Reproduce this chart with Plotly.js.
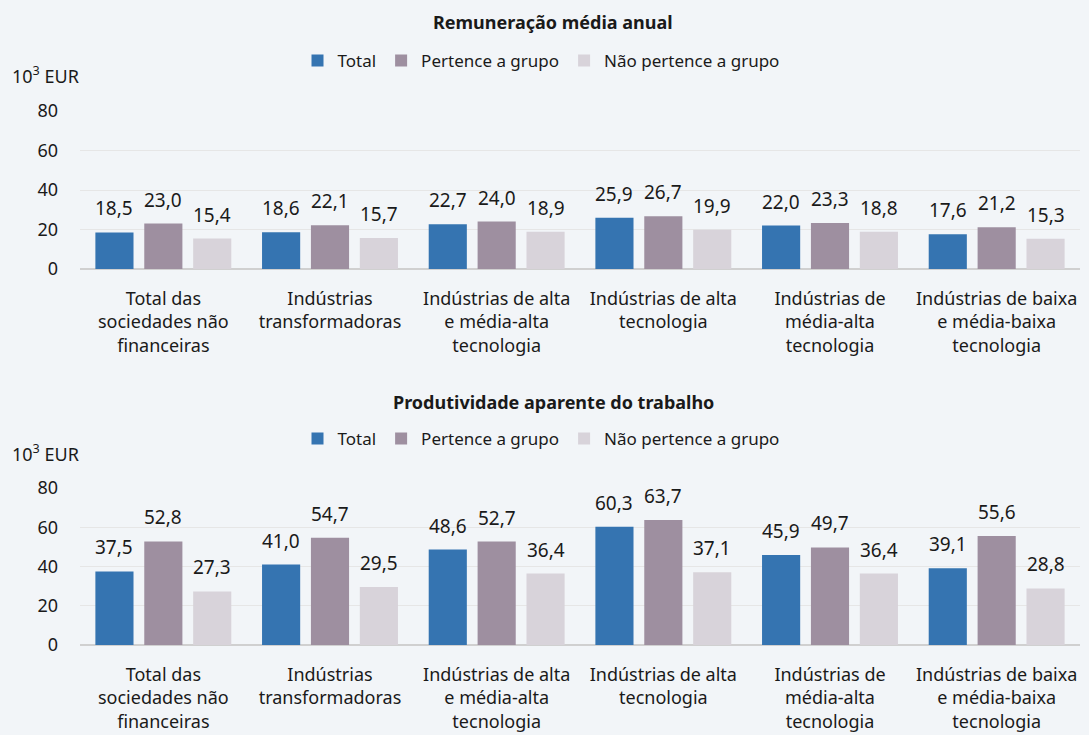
<!DOCTYPE html>
<html>
<head>
<meta charset="utf-8">
<script src="https://cdn.plot.ly/plotly-3.0.1.min.js"></script>
<style>html,body{margin:0;padding:0;background:#f2f5f8;}#chart{width:1089px;height:735px;}</style>
</head>
<body>
<div id="chart"></div>
<script>
const categories = [
  "Total das<br>sociedades não<br>financeiras",
  "Indústrias<br>transformadoras",
  "Indústrias de alta<br>e média-alta<br>tecnologia",
  "Indústrias de alta<br>tecnologia",
  "Indústrias de<br>média-alta<br>tecnologia",
  "Indústrias de baixa<br>e média-baixa<br>tecnologia"
];
const seriesNames = ["Total", "Pertence a grupo", "Não pertence a grupo"];
const colors = ["#3574b1", "#9e8fa0", "#d8d3da"];
// Remuneração média anual (10^3 EUR)
const remTotal = [18.5, 18.6, 22.7, 25.9, 22.0, 17.6];
const remGrupo = [23.0, 22.1, 24.0, 26.7, 23.3, 21.2];
const remNaoGrupo = [15.4, 15.7, 18.9, 19.9, 18.8, 15.3];
// Produtividade aparente do trabalho (10^3 EUR)
const prodTotal = [37.5, 41.0, 48.6, 60.3, 45.9, 39.1];
const prodGrupo = [52.8, 54.7, 52.7, 63.7, 49.7, 55.6];
const prodNaoGrupo = [27.3, 29.5, 36.4, 37.1, 36.4, 28.8];
const titles = ["Remuneração média anual", "Produtividade aparente do trabalho"];
const unitLabel = "10<sup>3</sup> EUR";

const FONT = "Noto Sans, sans-serif";
const TXT = "#1a1a1a";
const BARGAP = 0.12;
const PLOT_W = 1000;
const slotPx = (PLOT_W / categories.length) * (1 - BARGAP) / seriesNames.length;

const traces = [];
const annotations = [];
const sets = [[remTotal, remGrupo, remNaoGrupo], [prodTotal, prodGrupo, prodNaoGrupo]];
sets.forEach((set, p) => {
  const xa = p === 0 ? "x" : "x2";
  const ya = p === 0 ? "y" : "y2";
  set.forEach((vals, i) => {
    traces.push({
      type: "bar",
      x: categories,
      y: vals,
      name: seriesNames[i],
      xaxis: xa,
      yaxis: ya,
      legend: p === 0 ? "legend" : "legend2",
      marker: {color: colors[i]},
      hoverinfo: "x+y"
    });
    vals.forEach((v, k) => {
      annotations.push({
        xref: xa, yref: ya, x: categories[k], y: v,
        xshift: (i - 1) * slotPx, yshift: 9,
        xanchor: "center", yanchor: "bottom", showarrow: false,
        text: v.toFixed(1).replace(".", ","),
        font: {family: FONT, size: 19, color: TXT}
      });
    });
  });
});

const yax = (domain) => ({
  domain: domain, range: [0, 80], tickvals: [0, 20, 40, 60, 80],
  showgrid: true, gridcolor: "#e6e6e6", gridwidth: 1,
  zeroline: true, zerolinecolor: "#d0d0d0", zerolinewidth: 2,
  showline: false, ticks: "", ticklabelstandoff: 21,
  tickfont: {family: FONT, size: 18, color: TXT}, fixedrange: true
});
const xax = (anchor) => ({
  anchor: anchor, domain: [0, 1], showgrid: false, showline: false, ticks: "",
  ticklabelstandoff: 17,
  tickfont: {family: FONT, size: 18, color: TXT}, fixedrange: true
});
const legendBase = (y) => ({
  orientation: "h", x: 0.461, xanchor: "center", y: y, yanchor: "middle",
  bgcolor: "rgba(0,0,0,0)", font: {family: FONT, size: 17, color: TXT},
  itemwidth: 30, traceorder: "normal"
});

[[titles[0], 22], [titles[1], 402]].forEach(([t, py]) => {
  annotations.push({text: "<b>" + t + "</b>", xref: "paper", yref: "paper", x: 0.473, y: 1 - py/735,
    xanchor: "center", yanchor: "middle", showarrow: false, font: {family: FONT, size: 18, color: TXT}});
});
[75, 453].forEach(py => {
  annotations.push({text: unitLabel, xref: "paper", yref: "paper", x: -70/1000, y: 1 - py/735,
    xanchor: "left", yanchor: "middle", showarrow: false, font: {family: FONT, size: 18, color: TXT}});
});

const layout = {
  width: 1089, height: 735,
  paper_bgcolor: "#f2f5f8", plot_bgcolor: "#f2f5f8",
  margin: {l: 80, r: 9, t: 0, b: 0},
  separators: ",.",
  barmode: "group", bargap: BARGAP, bargroupgap: 0.22,
  showlegend: true,
  xaxis: xax("y"),
  yaxis: yax([1 - 269/735, 1 - 111/735]),
  xaxis2: xax("y2"),
  yaxis2: yax([1 - 645/735, 1 - 488/735]),
  legend: legendBase(1 - 61/735),
  legend2: legendBase(1 - 439/735),
  annotations: annotations
};

Plotly.newPlot("chart", traces, layout, {displayModeBar: false, staticPlot: true});
</script>
</body>
</html>
